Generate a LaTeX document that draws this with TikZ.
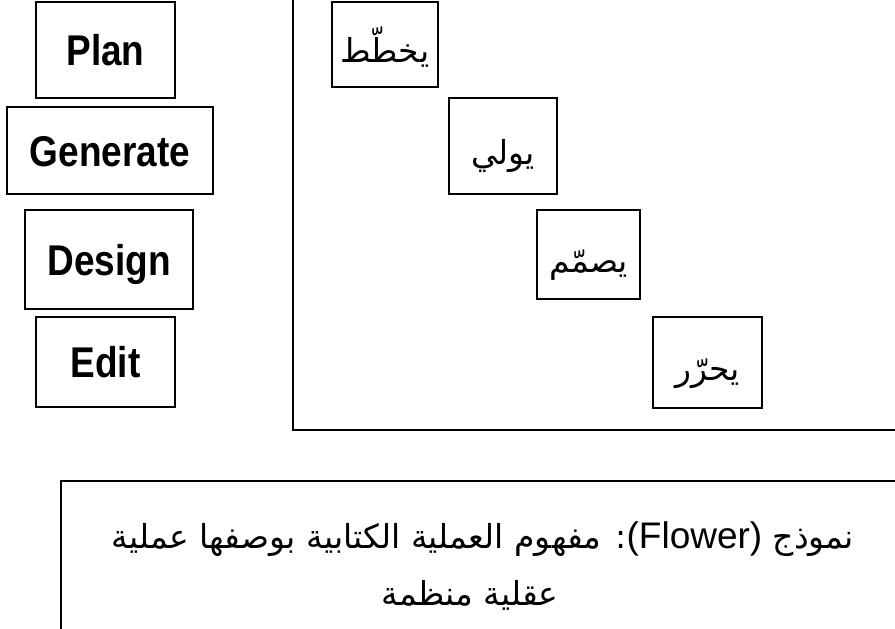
\documentclass[tikz,border=0pt]{standalone}
\usepackage{fontspec}
\setmainfont{Liberation Sans}
\newfontfamily\labelfont[FakeStretch=0.86]{Liberation Sans}
\newfontfamily\arabicfont[Script=Arabic]{DejaVu Sans}
\TeXXeTstate=1
\tikzset{
  x=1pt, y=-1pt,
  stage/.style={draw=black, line width=1.3pt, inner sep=0pt,
    text height=31pt, text depth=0pt,
    font=\labelfont\fontsize{43}{48}\bfseries\selectfont},
  verb/.style={draw=black, line width=1.3pt, inner sep=0pt,
    text height=36pt, text depth=0pt,
    font=\arabicfont\fontsize{33}{38}\selectfont},
  axis/.style={draw=black, line width=1.6pt},
  frame/.style={draw=black, line width=1.6pt},
  caption/.style={anchor=base, inner sep=0pt,
    font=\arabicfont\fontsize{33}{38}\selectfont},
}
\newcommand{\latinpart}[1]{{\fontspec{Liberation Sans}\fontsize{37}{42}\selectfont #1}}
\begin{document}
\begin{tikzpicture}
  \clip (0,0) rectangle (895,629);
  \fill[white] (0,0) rectangle (895,629);

  % English stage names
  \node[stage, minimum width=139pt, minimum height=96pt] (plan) at (105.5,50) {Plan};
  \node[stage, minimum width=206pt, minimum height=87pt] (generate) at (110,150.5) {Generate};
  \node[stage, minimum width=168pt, minimum height=99pt] (design) at (109,259.5) {Design};
  \node[stage, minimum width=139pt, minimum height=90pt] (edit) at (105.5,362) {Edit};

  % axes of the staircase
  \draw[axis] (293,0) -- (293,430) -- (895,430);

  % Arabic stage verbs, descending step by step
  \node[verb, minimum width=106pt, minimum height=85pt] (khattata) at (385,44.5) {\beginR يخطّط\endR};
  \node[verb, minimum width=108pt, minimum height=96pt] (yuwli) at (503,146) {\beginR يولي\endR};
  \node[verb, minimum width=103pt, minimum height=89pt] (sammama) at (588.5,254.5) {\beginR يصمّم\endR};
  \node[verb, minimum width=109pt, minimum height=91pt] (harrara) at (707.5,362.5) {\beginR يحرّر\endR};

  % caption frame
  \draw[frame] (61,650) -- (61,481) -- (910,481);
  \node[caption] (captionA) at (483,548)
    {\beginR نموذج \beginL\latinpart{(Flower)}\endL: مفهوم العملية الكتابية بوصفها عملية\endR};
  \node[caption] (captionB) at (470,605) {\beginR عقلية منظمة\endR};
\end{tikzpicture}
\end{document}
